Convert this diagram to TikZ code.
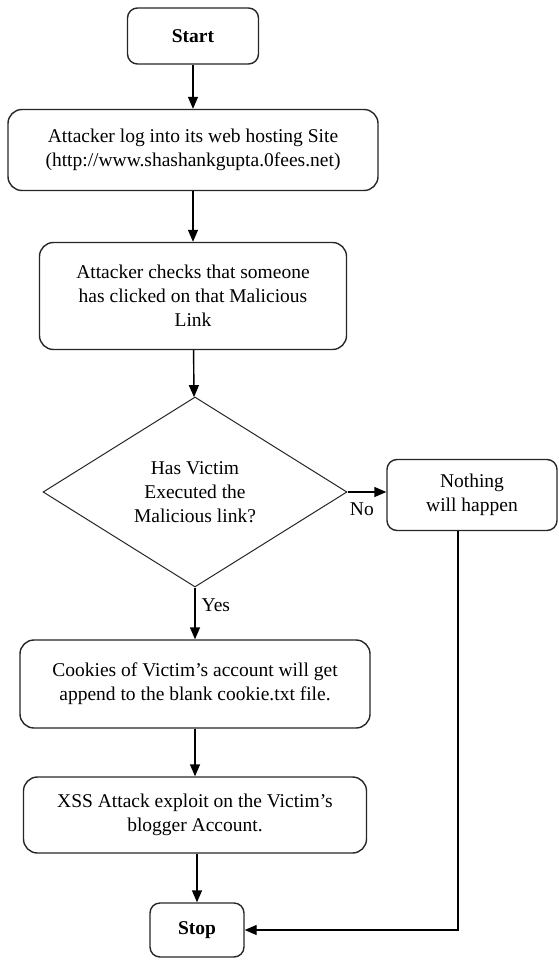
\documentclass[tikz,border=0pt]{standalone}
\usepackage{fontspec}
\setmainfont{Liberation Serif}
\usetikzlibrary{arrows.meta,shapes.geometric}

\begin{document}
\begin{tikzpicture}[x=1pt,y=-1pt,
 every node/.style={font=\fontsize{19.5}{24}\selectfont, align=center, inner sep=0pt},
 stepbox/.style={rectangle, rounded corners=14pt, draw=black!85, line width=1.4pt},
 endbox/.style={stepbox, rounded corners=10pt, font=\fontsize{19.5}{24}\selectfont\bfseries},
 decision/.style={diamond, draw=black!85, line width=1pt, minimum width=304pt, minimum height=190pt},
 flow/.style={draw, line width=1.4pt, -{Triangle[length=12pt,width=10pt]}},
]
 \useasboundingbox (0,0) rectangle (558,960);
 \node[endbox, minimum width=131pt, minimum height=56pt] (start) at (193,36) {Start};
 \node[stepbox, minimum width=370pt, minimum height=81pt] (login) at (193,150)
   {Attacker log into its web hosting Site\\(http://www.shashankgupta.0fees.net)};
 \node[stepbox, minimum width=307pt, minimum height=107pt] (check) at (193,296)
   {Attacker checks that someone\\has clicked on that Malicious\\Link};
 \node[decision] (decide) at (195,492)
   {Has Victim\\Executed the\\Malicious link?};
 \node[stepbox, rounded corners=10pt, minimum width=170pt, minimum height=71pt] (nothing) at (472,495)
   {Nothing\\will happen};
 \node[stepbox, minimum width=350pt, minimum height=88pt] (cookie) at (195,684)
   {Cookies of Victim's account will get\\append to the blank cookie.txt file.};
 \node[stepbox, minimum width=343pt, minimum height=76pt] (xss) at (195,815)
   {XSS Attack exploit on the Victim's\\blogger Account.};
 \node[endbox, minimum width=94pt, minimum height=54pt] (stop) at (197,930) {Stop};

 % connectors
 \draw[flow] (start) -- (login);
 \draw[flow] (login) -- (check);
 \draw[flow] (check) -- (decide);
 \draw[flow] (decide.east) -- node[below=10pt, xshift=-5pt] {No} (decide.east -| nothing.west);
 \draw[flow] (decide) -- node[pos=0.35, right=6pt] {Yes} (cookie);
 \draw[flow] (cookie) -- (xss);
 \draw[flow] (xss.south -| stop.north) -- (stop.north);
 \draw[flow] ([xshift=-14pt]nothing.south) |- (stop.east);
\end{tikzpicture}
\end{document}
